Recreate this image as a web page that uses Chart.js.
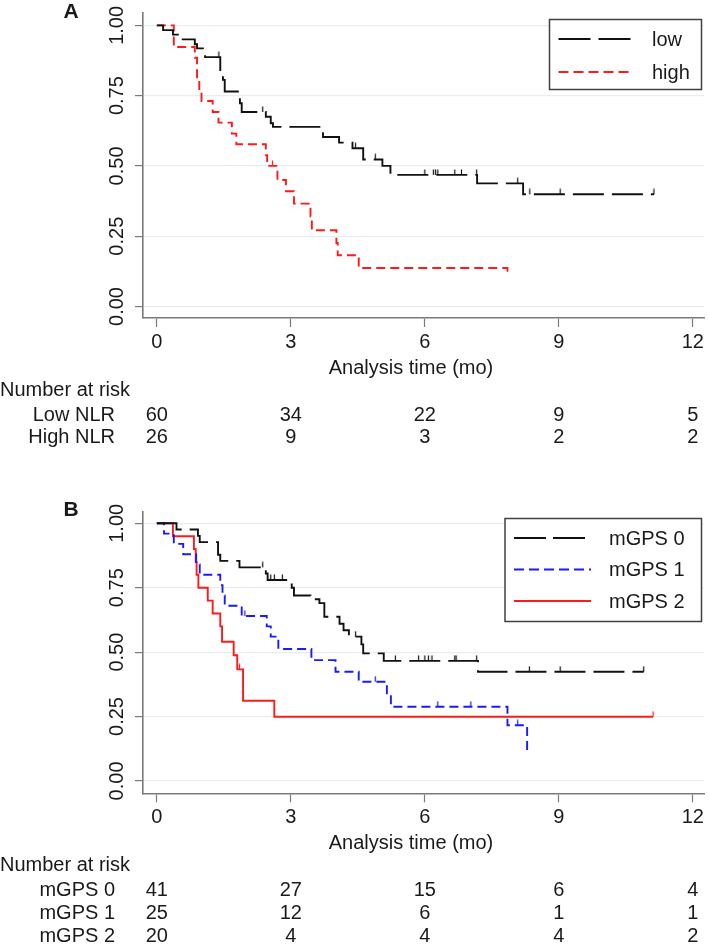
<!DOCTYPE html>
<html>
<head>
<meta charset="utf-8">
<script src="https://cdn.jsdelivr.net/npm/chart.js@4.4.0/dist/chart.umd.min.js"></script>
<style>
  html, body { margin: 0; padding: 0; background: #fff; }
  canvas { display: block; }
</style>
</head>
<body>
<canvas id="panelA" width="709" height="470"></canvas>
<canvas id="panelB" width="709" height="477"></canvas>
<script>
// shared axes
const timeTicks = [0, 3, 6, 9, 12];
const survTicks = [0, 0.25, 0.5, 0.75, 1];
const survTickLabels = ['0.00', '0.25', '0.50', '0.75', '1.00'];
const xTitle = 'Analysis time (mo)';

// Panel A: NLR
const lowTimes = [0, 0.14, 0.36, 0.47, 0.85, 0.9, 1.08, 1.42, 1.48, 1.52, 1.86, 1.9, 2.44, 2.55, 2.6, 3.72, 4.08, 4.38, 4.62, 5.05, 5.23, 7.17, 8.2, 11.13];
const lowSurv  = [1, 0.983, 0.967, 0.95, 0.933, 0.918, 0.887, 0.836, 0.806, 0.765, 0.723, 0.692, 0.675, 0.652, 0.639, 0.603, 0.583, 0.563, 0.523, 0.5, 0.468, 0.438, 0.399, 0.399];
const lowCensor = [1.39, 2.37, 4.45, 4.89, 6.0, 6.19, 6.24, 6.29, 6.67, 6.82, 7.16, 8.08, 8.35, 9.03, 11.13];

const highTimes = [0, 0.38, 0.85, 0.9, 0.95, 1.0, 1.25, 1.38, 1.68, 1.78, 2.44, 2.47, 2.7, 2.89, 3.07, 3.44, 3.47, 4.02, 4.05, 4.52, 7.85];
const highSurv  = [1, 0.923, 0.885, 0.808, 0.769, 0.731, 0.692, 0.654, 0.615, 0.577, 0.538, 0.5, 0.45, 0.41, 0.366, 0.32, 0.271, 0.226, 0.182, 0.137, 0.11];
const highCensor = [2.59];

const riskRowsA = ['Low NLR', 'High NLR'];
const riskLowNLR = [60, 34, 22, 9, 5];
const riskHighNLR = [26, 9, 3, 2, 2];
const legendA = ['low', 'high'];

// Panel B: mGPS
const g0Times = [0, 0.44, 0.92, 0.96, 1.37, 1.42, 1.85, 2.44, 2.48, 3.02, 3.07, 3.44, 3.64, 3.75, 4.09, 4.18, 4.3, 4.58, 4.62, 5.08, 7.19, 10.9];
const g0Surv  = [1, 0.976, 0.951, 0.927, 0.878, 0.854, 0.829, 0.805, 0.78, 0.75, 0.72, 0.705, 0.69, 0.637, 0.61, 0.585, 0.56, 0.53, 0.495, 0.466, 0.424, 0.424];
const g0Censor = [2.37, 2.55, 2.63, 2.81, 4.45, 5.34, 5.86, 6.0, 6.08, 6.16, 6.67, 6.7, 7.16, 8.34, 9.03, 10.9];

const g1Times = [0, 0.16, 0.38, 0.59, 0.88, 0.96, 1.42, 1.47, 1.52, 1.9, 2.46, 2.55, 2.72, 3.46, 4.0, 4.52, 5.15, 5.24, 7.85, 8.29];
const g1Surv  = [1, 0.96, 0.92, 0.88, 0.84, 0.8, 0.76, 0.72, 0.68, 0.64, 0.6, 0.56, 0.512, 0.469, 0.424, 0.385, 0.34, 0.288, 0.216, 0.106];
const g1Censor = [1.97, 4.89, 6.29, 7.03, 8.08];

const g2Times = [0, 0.36, 0.83, 0.87, 0.89, 0.93, 1.14, 1.25, 1.42, 1.46, 1.72, 1.8, 1.93, 2.63, 11.11];
const g2Surv  = [1, 0.95, 0.9, 0.85, 0.8, 0.75, 0.7, 0.65, 0.6, 0.54, 0.488, 0.433, 0.311, 0.249, 0.249];
const g2Censor = [1.85, 11.11];

const riskRowsB = ['mGPS 0', 'mGPS 1', 'mGPS 2'];
const riskG0 = [41, 27, 15, 6, 4];
const riskG1 = [25, 12, 6, 1, 1];
const riskG2 = [20, 4, 4, 4, 2];
const legendB = ['mGPS 0', 'mGPS 1', 'mGPS 2'];

const FONT = '"Liberation Sans", Arial, sans-serif';
const TEXT = '#1a1a1a';
const AXIS = '#7a7a7a';
const BLACK = '#111111', RED = '#ff1a1a', BLUE = '#1a1aff';
const LONG_DASH = [31, 8], SHORT_DASH = [9, 5];

function survAt(times, surv, t) {
    let s = 1;
    for (let i = 0; i < times.length; i++) if (times[i] <= t) s = surv[i];
    return s;
}

// little upward tick used as censoring marker (image is centred on the point)
function tickMark(color) {
    const c = document.createElement('canvas');
    c.width = 3; c.height = 12;
    const g = c.getContext('2d');
    g.strokeStyle = color;
    g.lineWidth = 1.2;
    g.beginPath();
    g.moveTo(1.5, 0.5);
    g.lineTo(1.5, 6);
    g.stroke();
    return c;
}

function curve(times, surv, color, dash) {
    return {
        data: times.map((t, i) => ({ x: t, y: surv[i] })),
        showLine: true,
        stepped: 'before',
        borderColor: color,
        borderWidth: 1.9,
        borderDash: dash,
        pointRadius: 0,
        fill: false
    };
}

function censorMarks(times, surv, censor, color) {
    return {
        data: censor.map(t => ({ x: t, y: survAt(times, surv, t) })),
        showLine: false,
        pointStyle: tickMark(color),
        pointRadius: 4
    };
}

// draws panel letter, rotated y labels, axis title, risk table and legend box
function decorations(cfg) {
    return {
        id: 'decor',
        afterDraw(chart) {
            const ctx = chart.ctx;
            const xs = chart.scales.x, ys = chart.scales.y;
            ctx.save();
            ctx.fillStyle = TEXT;

            ctx.font = 'bold 21px ' + FONT;
            ctx.textAlign = 'center';
            ctx.textBaseline = 'middle';
            ctx.fillText(cfg.letter, 71, cfg.letterY);

            ctx.font = '20px ' + FONT;
            survTicks.forEach((v, i) => {
                ctx.save();
                ctx.translate(117.5, ys.getPixelForValue(v));
                ctx.rotate(-Math.PI / 2);
                ctx.fillText(survTickLabels[i], 0, 0);
                ctx.restore();
            });

            const base = chart.chartArea.bottom;
            ctx.fillText(xTitle, 411, base + 50);

            ctx.textAlign = 'left';
            ctx.fillText('Number at risk', 0, base + 72);
            cfg.riskRows.forEach((label, r) => {
                const y = base + 97 + r * cfg.rowGap;
                ctx.textAlign = 'right';
                ctx.fillText(label, 115, y);
                ctx.textAlign = 'center';
                cfg.riskData[r].forEach((n, k) => ctx.fillText(String(n), xs.getPixelForValue(timeTicks[k]), y));
            });

            // legend
            const L = cfg.legend;
            ctx.fillStyle = '#fff';
            ctx.fillRect(L.x, L.y, L.w, L.h);
            ctx.strokeStyle = '#404040';
            ctx.lineWidth = 1.5;
            ctx.strokeRect(L.x, L.y, L.w, L.h);
            L.items.forEach((it, i) => {
                const y = L.firstY + i * L.gap;
                ctx.beginPath();
                ctx.setLineDash(it.dash);
                ctx.strokeStyle = it.color;
                ctx.lineWidth = 1.9;
                ctx.moveTo(L.x + 9, y);
                ctx.lineTo(L.x + 9 + L.sample, y);
                ctx.stroke();
                ctx.setLineDash([]);
                ctx.fillStyle = TEXT;
                ctx.textAlign = 'left';
                ctx.fillText(it.label, L.textX, y + 1);
            });
            ctx.restore();
        }
    };
}

function makePanel(id, datasets, cfg) {
    new Chart(document.getElementById(id), {
        type: 'scatter',
        data: { datasets },
        options: {
            responsive: false,
            animation: false,
            layout: { padding: { top: cfg.top, bottom: cfg.bottom, left: 0, right: 2 } },
            plugins: { legend: { display: false }, tooltip: { enabled: false } },
            scales: {
                x: {
                    type: 'linear', min: -0.31, max: 12.25,
                    afterBuildTicks: s => { s.ticks = timeTicks.map(v => ({ value: v })); },
                    afterFit: s => { s.height = 40; },
                    grid: { drawOnChartArea: false, tickLength: 9, tickColor: AXIS, tickWidth: 1.2 },
                    border: { color: AXIS, width: 1.6 },
                    ticks: { color: TEXT, font: { size: 20, family: FONT }, padding: 3, maxRotation: 0 }
                },
                y: {
                    type: 'linear', min: cfg.yMin, max: cfg.yMax,
                    afterBuildTicks: s => { s.ticks = survTicks.map(v => ({ value: v })); },
                    afterFit: s => { s.width = 143; },
                    grid: { color: '#e5eef1', lineWidth: 1.2, tickLength: 8, tickColor: AXIS, tickWidth: 1.2 },
                    border: { color: AXIS, width: 1.6 },
                    ticks: { display: false }
                }
            }
        },
        plugins: [decorations(cfg)]
    });
}

makePanel('panelA', [
    curve(lowTimes, lowSurv, BLACK, LONG_DASH),
    curve(highTimes, highSurv, RED, SHORT_DASH),
    censorMarks(lowTimes, lowSurv, lowCensor, BLACK),
    censorMarks(highTimes, highSurv, highCensor, RED)
], {
    top: 13, bottom: 112, yMin: -0.041, yMax: 1.044,
    letter: 'A', letterY: 12.5,
    riskRows: riskRowsA, riskData: [riskLowNLR, riskHighNLR], rowGap: 22,
    legend: {
        x: 549.5, y: 19.5, w: 152, h: 70, firstY: 39, gap: 33, sample: 73, textX: 652,
        items: [
            { label: legendA[0], color: BLACK, dash: [32, 8] },
            { label: legendA[1], color: RED, dash: [10, 5] }
        ]
    }
});

makePanel('panelB', [
    curve(g0Times, g0Surv, BLACK, LONG_DASH),
    curve(g1Times, g1Surv, BLUE, SHORT_DASH),
    curve(g2Times, g2Surv, RED, []),
    censorMarks(g0Times, g0Surv, g0Censor, BLACK),
    censorMarks(g1Times, g1Surv, g1Censor, BLUE),
    censorMarks(g2Times, g2Surv, g2Censor, RED)
], {
    top: 41.7, bottom: 113.7, yMin: -0.048, yMax: 1.045,
    letter: 'B', letterY: 40.5,
    riskRows: riskRowsB, riskData: [riskG0, riskG1, riskG2], rowGap: 23,
    legend: {
        x: 505, y: 48.5, w: 196.5, h: 103, firstY: 68, gap: 31.5, sample: 77, textX: 609,
        items: [
            { label: legendB[0], color: BLACK, dash: [32, 7] },
            { label: legendB[1], color: BLUE, dash: [10, 5] },
            { label: legendB[2], color: RED, dash: [] }
        ]
    }
});
</script>
</body>
</html>
